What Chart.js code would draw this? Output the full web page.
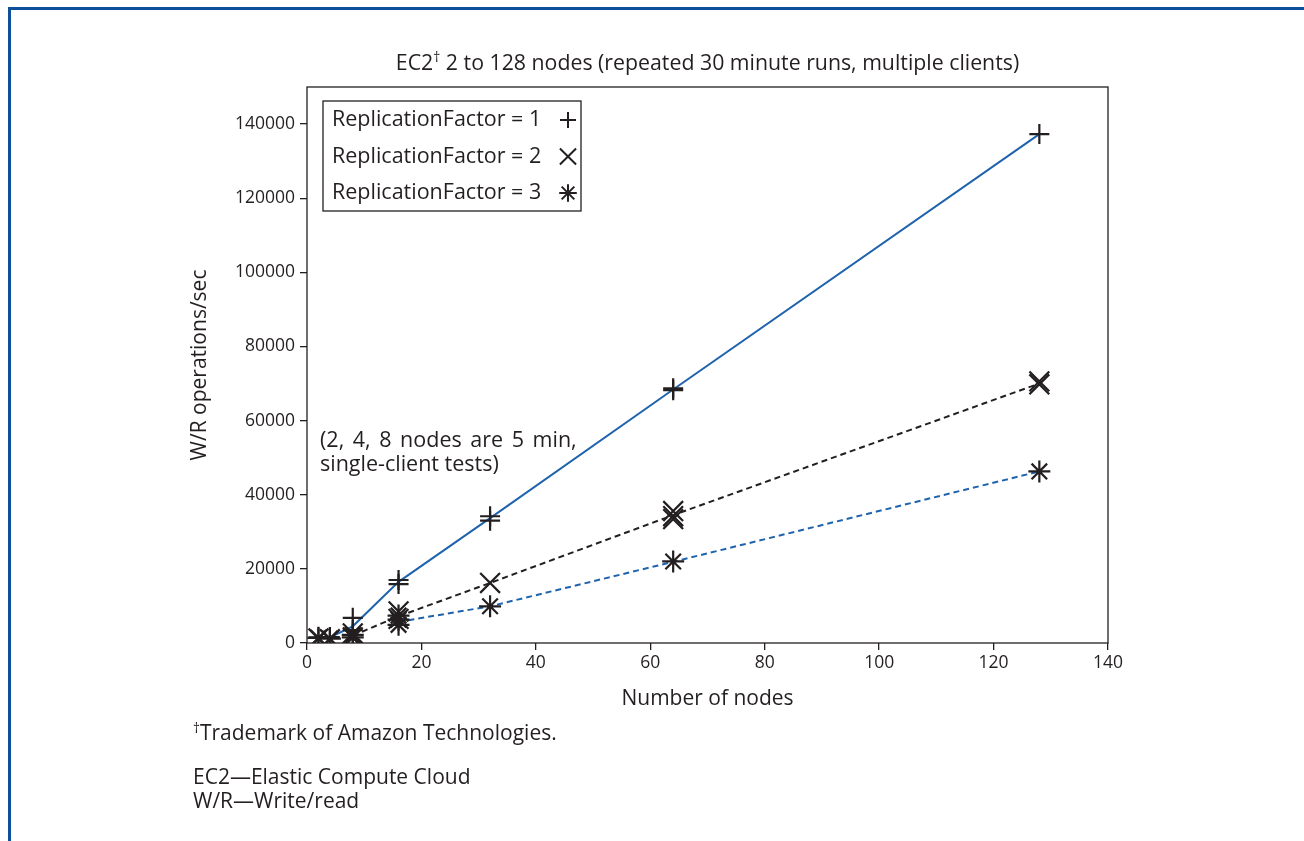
<!DOCTYPE html>
<html>
<head>
<meta charset="utf-8">
<script src="https://cdn.jsdelivr.net/npm/chart.js"></script>
<style>
    body { margin: 0; width: 1304px; height: 841px; position: relative; background: #fff; overflow: hidden;
           font-family: "Open Sans", "Noto Sans", sans-serif; color: #231f20; }
    .frame { position: absolute; left: 8px; top: 7px; right: 0; bottom: 0;
             border-top: 3px solid #0d4f98; border-left: 3px solid #0d4f98; }
    #chart { position: absolute; left: 0; top: 0; }
    .title { position: absolute; left: 307px; width: 801px; top: 49px; text-align: center; font-size: 21.3px; line-height: 25px; }
    .notes { position: absolute; left: 193px; font-size: 21px; line-height: 24px; }
    sup { font-size: 0.65em; line-height: 0; vertical-align: 0.55em; }
</style>
</head>
<body>
<div class="frame"></div>
<canvas id="chart" width="1304" height="841"></canvas>
<div class="title">EC2<sup>†</sup> 2 to 128 nodes (repeated 30 minute runs, multiple clients)</div>
<div class="notes" style="top:720px"><sup>†</sup>Trademark of Amazon Technologies.</div>
<div class="notes" style="top:764px">EC2—Elastic Compute Cloud<br>W/R—Write/read</div>

<script>
// Nodos del eje x
const nodes = [2, 4, 8, 16, 32, 64, 128];

// Líneas de tendencia (valores medios), null = sin línea
const rf1Mean = [null, 1500, 4500, 16500, 33700, 68400, 137300];
const rf2Mean = [null, null, 2000, 7200, 16200, 34500, 70000];
const rf3Mean = [null, null, null, 5700, 9900, 21900, 46300];

// Ejecuciones individuales (marcadores)
const rf1RunNodes = [2, 4, 8, 8, 16, 16, 32, 32, 64, 64, 128];
const rf1RunOps = [1500, 1600, 6800, 3500, 17000, 15900, 34200, 33000, 68700, 68200, 137300];
const rf2RunNodes = [2, 4, 8, 8, 16, 16, 32, 64, 64, 64, 128, 128];
const rf2RunOps = [1200, 1000, 1500, 2600, 8500, 6500, 16200, 35600, 34200, 33400, 70600, 69800];
const rf3RunNodes = [2, 4, 8, 8, 16, 16, 16, 32, 64, 128];
const rf3RunOps = [1400, 1200, 1500, 2200, 4900, 6300, 7400, 9900, 22000, 46300];

const seriesLabels = ['ReplicationFactor = 1', 'ReplicationFactor = 2', 'ReplicationFactor = 3'];

const xTicks = [0, 20, 40, 60, 80, 100, 120, 140];
const yTicks = [0, 20000, 40000, 60000, 80000, 100000, 120000, 140000];

const FONT = '"Open Sans", "Noto Sans", sans-serif';
const INK = '#231f20';
const BLUE = '#1f63ad';

function toPoints(xs, ys) {
    return xs.map((x, i) => ({ x: x, y: ys[i] })).filter(p => p.y !== null);
}

// Dibuja un marcador (+, x o *)
function drawMarker(ctx, style, x, y, r) {
    ctx.save();
    ctx.strokeStyle = INK;
    ctx.lineWidth = 2;
    ctx.beginPath();
    if (style === 'cross' || style === 'star') {
        ctx.moveTo(x - r, y); ctx.lineTo(x + r, y);
        ctx.moveTo(x, y - r); ctx.lineTo(x, y + r);
    }
    if (style === 'crossRot' || style === 'star') {
        const d = r * 0.72;
        ctx.moveTo(x - d, y - d); ctx.lineTo(x + d, y + d);
        ctx.moveTo(x - d, y + d); ctx.lineTo(x + d, y - d);
    }
    ctx.stroke();
    ctx.restore();
}

// Marco del área, leyenda y nota
const decorations = {
    id: 'decorations',
    afterDatasetsDraw(chart) {
        const ctx = chart.ctx;
        const a = chart.chartArea;
        ctx.save();
        ctx.strokeStyle = INK;
        ctx.lineWidth = 1.3;
        ctx.strokeRect(a.left, a.top, a.right - a.left, a.bottom - a.top);

        // Leyenda con el marcador a la derecha
        const lx = a.left + 16, ly = a.top + 14;
        ctx.strokeRect(lx, ly, 258, 110);
        ctx.font = '21.5px ' + FONT;
        ctx.fillStyle = INK;
        ctx.textBaseline = 'middle';
        chart.data.datasets.filter(d => d.legendRow !== undefined).forEach(d => {
            const rowY = ly + 19 + d.legendRow * 36.5;
            ctx.fillText(d.label, lx + 9, rowY);
            drawMarker(ctx, d.pointStyle, lx + 245, rowY, d.pointRadius * 0.8);
        });

        // Nota sobre las pruebas cortas
        ctx.font = '21.5px ' + FONT;
        ctx.wordSpacing = '3px';
        ctx.fillText('(2, 4, 8 nodes are 5 min,', a.left + 13, 441);
        ctx.wordSpacing = '0px';
        ctx.fillText('single-client tests)', a.left + 13, 465);
        ctx.restore();
    }
};

const markerDefaults = { showLine: false, backgroundColor: INK, borderColor: INK, pointBorderWidth: 2.2, order: 0 };

new Chart(document.getElementById('chart'), {
    type: 'scatter',
    data: {
        datasets: [
            { label: seriesLabels[0], data: toPoints(nodes, rf1Mean), showLine: true, borderColor: BLUE, borderWidth: 2, pointRadius: 0, order: 1 },
            { label: seriesLabels[1], data: toPoints(nodes, rf2Mean), showLine: true, borderColor: INK, borderWidth: 2, borderDash: [6, 4], pointRadius: 0, order: 1 },
            { label: seriesLabels[2], data: toPoints(nodes, rf3Mean), showLine: true, borderColor: BLUE, borderWidth: 2, borderDash: [6, 4], pointRadius: 0, order: 1 },
            Object.assign({ label: seriesLabels[0], data: toPoints(rf1RunNodes, rf1RunOps), pointStyle: 'cross', pointRadius: 10, legendRow: 0 }, markerDefaults),
            Object.assign({ label: seriesLabels[1], data: toPoints(rf2RunNodes, rf2RunOps), pointStyle: 'crossRot', pointRadius: 14, legendRow: 1 }, markerDefaults),
            Object.assign({ label: seriesLabels[2], data: toPoints(rf3RunNodes, rf3RunOps), pointStyle: 'star', pointRadius: 11, legendRow: 2 }, markerDefaults)
        ]
    },
    options: {
        responsive: false,
        animation: false,
        events: [],
        layout: { padding: { left: 183, right: 196, top: 87, bottom: 125 } },
        plugins: { legend: { display: false }, tooltip: { enabled: false } },
        scales: {
            x: {
                type: 'linear', min: 0, max: 140,
                afterFit: s => { s.height = 73; },
                afterBuildTicks: s => { s.ticks = xTicks.map(v => ({ value: v })); },
                grid: { drawOnChartArea: false, tickLength: 7, tickColor: INK, lineWidth: 1.3 },
                border: { display: false },
                ticks: { color: INK, font: { family: FONT, size: 17.5 }, padding: 3, maxRotation: 0 },
                title: { display: true, text: 'Number of nodes', color: INK, font: { family: FONT, size: 21 } }
            },
            y: {
                type: 'linear', min: 0, max: 150000,
                afterFit: s => { s.width = 124; },
                afterBuildTicks: s => { s.ticks = yTicks.map(v => ({ value: v })); },
                grid: { drawOnChartArea: false, tickLength: 7, tickColor: INK, lineWidth: 1.3 },
                border: { display: false },
                ticks: { color: INK, font: { family: FONT, size: 17.5 }, padding: 5, callback: v => String(v) },
                title: { display: true, text: 'W/R operations/sec', color: INK, font: { family: FONT, size: 21 } }
            }
        }
    },
    plugins: [decorations]
});
</script>
</body>
</html>
